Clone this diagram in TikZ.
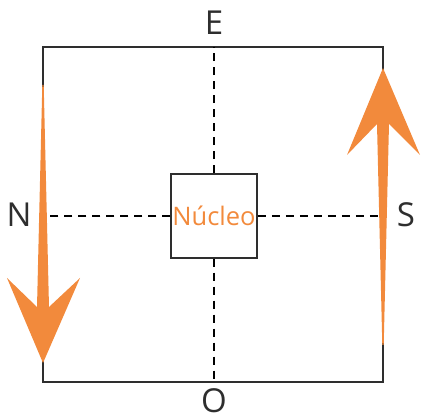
\documentclass[tikz,border=0pt]{standalone}
\usepackage{fontspec}
\setmainfont{Open Sans}
\usepackage{xcolor}
\definecolor{boxink}{HTML}{2E2E2E}
\definecolor{flowink}{HTML}{F28A3C}

\begin{document}
\begin{tikzpicture}[
  x=1pt, y=-1pt,
  every node/.style={inner sep=0pt},
  frame/.style={boxink, line width=1.5pt},
  axisline/.style={black, line width=1.5pt, dash pattern=on 8pt off 6pt},
  pole/.style={font=\fontsize{33}{33}\selectfont, boxink},
  core/.style={draw=boxink, line width=1.5pt, minimum width=86pt, minimum height=84pt,
               font=\fontsize{25.5}{25.5}\selectfont, text=flowink},
  flow/.style={fill=flowink, draw=none}
]
  \useasboundingbox (0,0) rectangle (421,419);

  %% ---- outer frame -------------------------------------------------
  \coordinate (tl) at (43,47);
  \coordinate (tr) at (383,47);
  \coordinate (br) at (383,382);
  \coordinate (bl) at (43,382);
  \draw[frame] (tl) -- (tr) -- (br) -- (bl) -- cycle;

  %% ---- nucleus and cardinal labels ---------------------------------
  \node[core] (nucleo) at (214,216) {Núcleo};
  \node[pole] (E) at (214,23)  {E};
  \node[pole] (O) at (214,401) {O};
  \node[pole] (N) at (19,215)  {N};
  \node[pole] (S) at (406,215) {S};

  %% ---- dashed axes -------------------------------------------------
  \draw[axisline] (nucleo.north) -- (nucleo.north |- tl);
  \draw[axisline] (nucleo.south) -- (nucleo.south |- bl);
  \draw[axisline] (nucleo.west)  -- (nucleo.west -| tl);
  \draw[axisline] (nucleo.east)  -- (nucleo.east -| tr);

  %% ---- orange arrows, left down and right up -----------------------
  \fill[flow] (42.3,85) -- (37,307) -- (7,278) -- (43,363) -- (80,278)
    -- (49,307) -- (43.7,85) -- cycle;
  \fill[flow] (383,68) -- (420,155) -- (389,124) -- (383.7,345)
    -- (382.3,345) -- (377,124) -- (347,155) -- cycle;

\end{tikzpicture}
\end{document}
